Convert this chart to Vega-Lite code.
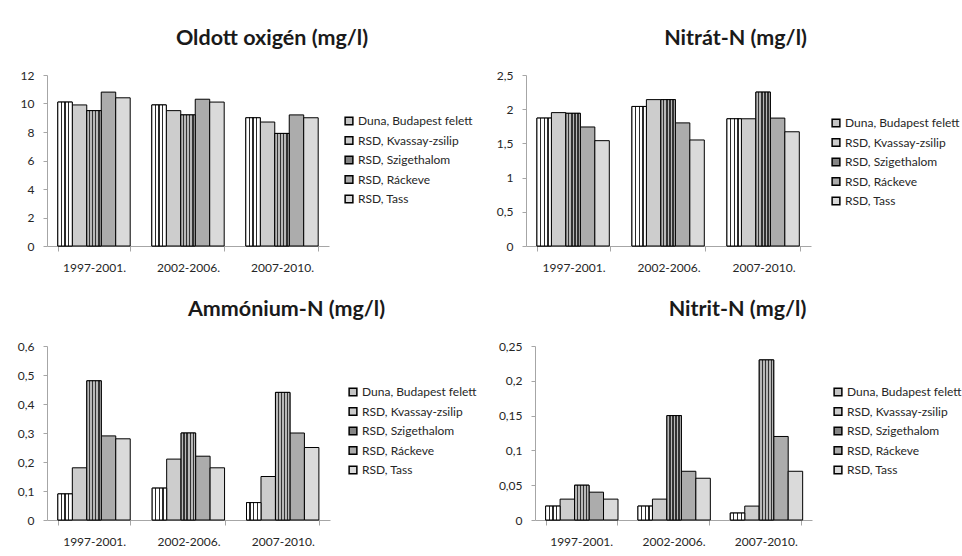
{
  "$schema": "https://vega.github.io/schema/vega-lite/v6.json",
  "padding": {"left": 5, "top": 27, "right": 5, "bottom": 5},
  "background": "white",
  "config": {
    "font": "Lato",
    "view": {"stroke": null},
    "axis": {
      "domainColor": "#a6a6a6",
      "tickColor": "#a6a6a6",
      "labelColor": "#262626",
      "labelFont": "Lato",
      "labelFontSize": 12,
      "grid": false
    },
    "axisX": {"tickSize": 5, "labelPadding": 11, "tickBand": "extent", "labelAngle": 0},
    "axisY": {"tickSize": 4, "labelPadding": 9},
    "legend": {
      "orient": "none",
      "title": null,
      "symbolType": "square",
      "symbolSize": 60,
      "symbolStrokeColor": "black",
      "symbolStrokeWidth": 1.5,
      "labelFont": "Lato",
      "labelFontSize": 12,
      "labelColor": "#262626",
      "labelLimit": 0,
      "rowPadding": 5.5,
      "labelOffset": 3
    },
    "title": {
      "font": "Lato",
      "fontSize": 21.5,
      "fontWeight": "bold",
      "color": "#1a1a1a",
      "anchor": "middle",
      "frame": "group",
      "baseline": "alphabetic",
      "offset": 20
    }
  },
  "datasets": {
    "d": [
      {"param": "O", "period": "1997-2001.", "site": "Duna, Budapest felett", "value": 10.1},
      {"param": "O", "period": "1997-2001.", "site": "RSD, Kvassay-zsilip", "value": 9.9},
      {"param": "O", "period": "1997-2001.", "site": "RSD, Szigethalom", "value": 9.5},
      {"param": "O", "period": "1997-2001.", "site": "RSD, Ráckeve", "value": 10.8},
      {"param": "O", "period": "1997-2001.", "site": "RSD, Tass", "value": 10.4},
      {"param": "O", "period": "2002-2006.", "site": "Duna, Budapest felett", "value": 9.9},
      {"param": "O", "period": "2002-2006.", "site": "RSD, Kvassay-zsilip", "value": 9.5},
      {"param": "O", "period": "2002-2006.", "site": "RSD, Szigethalom", "value": 9.2},
      {"param": "O", "period": "2002-2006.", "site": "RSD, Ráckeve", "value": 10.3},
      {"param": "O", "period": "2002-2006.", "site": "RSD, Tass", "value": 10.1},
      {"param": "O", "period": "2007-2010.", "site": "Duna, Budapest felett", "value": 9.0},
      {"param": "O", "period": "2007-2010.", "site": "RSD, Kvassay-zsilip", "value": 8.7},
      {"param": "O", "period": "2007-2010.", "site": "RSD, Szigethalom", "value": 7.9},
      {"param": "O", "period": "2007-2010.", "site": "RSD, Ráckeve", "value": 9.2},
      {"param": "O", "period": "2007-2010.", "site": "RSD, Tass", "value": 9.0},
      {"param": "NO3", "period": "1997-2001.", "site": "Duna, Budapest felett", "value": 1.87},
      {"param": "NO3", "period": "1997-2001.", "site": "RSD, Kvassay-zsilip", "value": 1.95},
      {"param": "NO3", "period": "1997-2001.", "site": "RSD, Szigethalom", "value": 1.94},
      {"param": "NO3", "period": "1997-2001.", "site": "RSD, Ráckeve", "value": 1.74},
      {"param": "NO3", "period": "1997-2001.", "site": "RSD, Tass", "value": 1.54},
      {"param": "NO3", "period": "2002-2006.", "site": "Duna, Budapest felett", "value": 2.04},
      {"param": "NO3", "period": "2002-2006.", "site": "RSD, Kvassay-zsilip", "value": 2.14},
      {"param": "NO3", "period": "2002-2006.", "site": "RSD, Szigethalom", "value": 2.14},
      {"param": "NO3", "period": "2002-2006.", "site": "RSD, Ráckeve", "value": 1.80},
      {"param": "NO3", "period": "2002-2006.", "site": "RSD, Tass", "value": 1.55},
      {"param": "NO3", "period": "2007-2010.", "site": "Duna, Budapest felett", "value": 1.86},
      {"param": "NO3", "period": "2007-2010.", "site": "RSD, Kvassay-zsilip", "value": 1.86},
      {"param": "NO3", "period": "2007-2010.", "site": "RSD, Szigethalom", "value": 2.25},
      {"param": "NO3", "period": "2007-2010.", "site": "RSD, Ráckeve", "value": 1.87},
      {"param": "NO3", "period": "2007-2010.", "site": "RSD, Tass", "value": 1.67},
      {"param": "NH4", "period": "1997-2001.", "site": "Duna, Budapest felett", "value": 0.09},
      {"param": "NH4", "period": "1997-2001.", "site": "RSD, Kvassay-zsilip", "value": 0.18},
      {"param": "NH4", "period": "1997-2001.", "site": "RSD, Szigethalom", "value": 0.48},
      {"param": "NH4", "period": "1997-2001.", "site": "RSD, Ráckeve", "value": 0.29},
      {"param": "NH4", "period": "1997-2001.", "site": "RSD, Tass", "value": 0.28},
      {"param": "NH4", "period": "2002-2006.", "site": "Duna, Budapest felett", "value": 0.11},
      {"param": "NH4", "period": "2002-2006.", "site": "RSD, Kvassay-zsilip", "value": 0.21},
      {"param": "NH4", "period": "2002-2006.", "site": "RSD, Szigethalom", "value": 0.30},
      {"param": "NH4", "period": "2002-2006.", "site": "RSD, Ráckeve", "value": 0.22},
      {"param": "NH4", "period": "2002-2006.", "site": "RSD, Tass", "value": 0.18},
      {"param": "NH4", "period": "2007-2010.", "site": "Duna, Budapest felett", "value": 0.06},
      {"param": "NH4", "period": "2007-2010.", "site": "RSD, Kvassay-zsilip", "value": 0.15},
      {"param": "NH4", "period": "2007-2010.", "site": "RSD, Szigethalom", "value": 0.44},
      {"param": "NH4", "period": "2007-2010.", "site": "RSD, Ráckeve", "value": 0.30},
      {"param": "NH4", "period": "2007-2010.", "site": "RSD, Tass", "value": 0.25},
      {"param": "NO2", "period": "1997-2001.", "site": "Duna, Budapest felett", "value": 0.02},
      {"param": "NO2", "period": "1997-2001.", "site": "RSD, Kvassay-zsilip", "value": 0.03},
      {"param": "NO2", "period": "1997-2001.", "site": "RSD, Szigethalom", "value": 0.05},
      {"param": "NO2", "period": "1997-2001.", "site": "RSD, Ráckeve", "value": 0.04},
      {"param": "NO2", "period": "1997-2001.", "site": "RSD, Tass", "value": 0.03},
      {"param": "NO2", "period": "2002-2006.", "site": "Duna, Budapest felett", "value": 0.02},
      {"param": "NO2", "period": "2002-2006.", "site": "RSD, Kvassay-zsilip", "value": 0.03},
      {"param": "NO2", "period": "2002-2006.", "site": "RSD, Szigethalom", "value": 0.15},
      {"param": "NO2", "period": "2002-2006.", "site": "RSD, Ráckeve", "value": 0.07},
      {"param": "NO2", "period": "2002-2006.", "site": "RSD, Tass", "value": 0.06},
      {"param": "NO2", "period": "2007-2010.", "site": "Duna, Budapest felett", "value": 0.01},
      {"param": "NO2", "period": "2007-2010.", "site": "RSD, Kvassay-zsilip", "value": 0.02},
      {"param": "NO2", "period": "2007-2010.", "site": "RSD, Szigethalom", "value": 0.23},
      {"param": "NO2", "period": "2007-2010.", "site": "RSD, Ráckeve", "value": 0.12},
      {"param": "NO2", "period": "2007-2010.", "site": "RSD, Tass", "value": 0.07}
    ]
  },
  "spacing": 25,
  "vconcat": [
    {
      "spacing": 23,
      "hconcat": [
        {
          "title": {"text": "Oldott oxigén (mg/l)", "dx": 84},
          "width": 282, "height": 171,
          "data": {"name": "d"},
          "transform": [{"filter": "datum.param == 'O'"}],
          "encoding": {
            "x": {"field": "period", "type": "nominal", "title": null, "scale": {"paddingInner": 0.23, "paddingOuter": 0.115}},
            "xOffset": {"field": "site", "type": "nominal", "sort": ["Duna, Budapest felett", "RSD, Kvassay-zsilip", "RSD, Szigethalom", "RSD, Ráckeve", "RSD, Tass"], "scale": {"paddingInner": 0, "paddingOuter": 0}},
            "y": {"field": "value", "type": "quantitative", "title": null, "scale": {"domain": [0, 12]}, "axis": {"values": [0, 2, 4, 6, 8, 10, 12], "format": ".2~f", "labelExpr": "replace(datum.label, '.', ',')", "minExtent": 38, "maxExtent": 38}}
          },
          "layer": [
            {
              "mark": {"type": "bar", "stroke": "black", "strokeWidth": 1},
              "encoding": {
                "color": {"field": "site", "type": "nominal", "sort": ["Duna, Budapest felett", "RSD, Kvassay-zsilip", "RSD, Szigethalom", "RSD, Ráckeve", "RSD, Tass"], "scale": {"range": ["#c4c4c4", "#cdcdcd", "#858585", "#acacac", "#dadada"]}, "legend": {"legendX": 296, "legendY": 40}}
              }
            },
            {
              "transform": [{"filter": "datum.site == 'Duna, Budapest felett'"}],
              "mark": {"type": "bar", "stroke": "black", "strokeWidth": 1, "fill": {"gradient": "linear", "x1": 0, "y1": 0, "x2": 1, "y2": 0, "stops": [
                {"offset": 0, "color": "#ffffff"}, {"offset": 0.2, "color": "#ffffff"},
                {"offset": 0.2, "color": "#2a2a2a"}, {"offset": 0.29, "color": "#2a2a2a"},
                {"offset": 0.29, "color": "#ffffff"}, {"offset": 0.455, "color": "#ffffff"},
                {"offset": 0.455, "color": "#2a2a2a"}, {"offset": 0.545, "color": "#2a2a2a"},
                {"offset": 0.545, "color": "#ffffff"}, {"offset": 0.71, "color": "#ffffff"},
                {"offset": 0.71, "color": "#2a2a2a"}, {"offset": 0.8, "color": "#2a2a2a"},
                {"offset": 0.8, "color": "#ffffff"}, {"offset": 1, "color": "#ffffff"}]}}
            },
            {
              "transform": [{"filter": "datum.site == 'RSD, Szigethalom'"}],
              "mark": {"type": "bar", "stroke": "black", "strokeWidth": 1, "fill": {"gradient": "linear", "x1": 0, "y1": 0, "x2": 1, "y2": 0, "stops": [
                {"offset": 0, "color": "#b8b8b8"}, {"offset": 0.16, "color": "#b8b8b8"},
                {"offset": 0.16, "color": "#333333"}, {"offset": 0.25, "color": "#333333"},
                {"offset": 0.25, "color": "#b8b8b8"}, {"offset": 0.37, "color": "#b8b8b8"},
                {"offset": 0.37, "color": "#333333"}, {"offset": 0.46, "color": "#333333"},
                {"offset": 0.46, "color": "#b8b8b8"}, {"offset": 0.58, "color": "#b8b8b8"},
                {"offset": 0.58, "color": "#333333"}, {"offset": 0.67, "color": "#333333"},
                {"offset": 0.67, "color": "#b8b8b8"}, {"offset": 0.79, "color": "#b8b8b8"},
                {"offset": 0.79, "color": "#333333"}, {"offset": 0.88, "color": "#333333"},
                {"offset": 0.88, "color": "#b8b8b8"}, {"offset": 1, "color": "#b8b8b8"}]}}
            }
          ]
        },
        {
          "title": {"text": "Nitrát-N (mg/l)", "dx": 67},
          "width": 285, "height": 171,
          "data": {"name": "d"},
          "transform": [{"filter": "datum.param == 'NO3'"}],
          "encoding": {
            "x": {"field": "period", "type": "nominal", "title": null, "scale": {"paddingInner": 0.23, "paddingOuter": 0.115}},
            "xOffset": {"field": "site", "type": "nominal", "sort": ["Duna, Budapest felett", "RSD, Kvassay-zsilip", "RSD, Szigethalom", "RSD, Ráckeve", "RSD, Tass"], "scale": {"paddingInner": 0, "paddingOuter": 0}},
            "y": {"field": "value", "type": "quantitative", "title": null, "scale": {"domain": [0, 2.5]}, "axis": {"values": [0, 0.5, 1, 1.5, 2, 2.5], "format": ".2~f", "labelExpr": "replace(datum.label, '.', ',')", "minExtent": 30, "maxExtent": 30}}
          },
          "layer": [
            {
              "mark": {"type": "bar", "stroke": "black", "strokeWidth": 1},
              "encoding": {
                "color": {"field": "site", "type": "nominal", "sort": ["Duna, Budapest felett", "RSD, Kvassay-zsilip", "RSD, Szigethalom", "RSD, Ráckeve", "RSD, Tass"], "scale": {"range": ["#c4c4c4", "#cdcdcd", "#858585", "#acacac", "#dadada"]}, "legend": {"legendX": 304, "legendY": 42}}
              }
            },
            {
              "transform": [{"filter": "datum.site == 'Duna, Budapest felett'"}],
              "mark": {"type": "bar", "stroke": "black", "strokeWidth": 1, "fill": {"gradient": "linear", "x1": 0, "y1": 0, "x2": 1, "y2": 0, "stops": [
                {"offset": 0, "color": "#ffffff"}, {"offset": 0.2, "color": "#ffffff"},
                {"offset": 0.2, "color": "#2a2a2a"}, {"offset": 0.29, "color": "#2a2a2a"},
                {"offset": 0.29, "color": "#ffffff"}, {"offset": 0.455, "color": "#ffffff"},
                {"offset": 0.455, "color": "#2a2a2a"}, {"offset": 0.545, "color": "#2a2a2a"},
                {"offset": 0.545, "color": "#ffffff"}, {"offset": 0.71, "color": "#ffffff"},
                {"offset": 0.71, "color": "#2a2a2a"}, {"offset": 0.8, "color": "#2a2a2a"},
                {"offset": 0.8, "color": "#ffffff"}, {"offset": 1, "color": "#ffffff"}]}}
            },
            {
              "transform": [{"filter": "datum.site == 'RSD, Szigethalom'"}],
              "mark": {"type": "bar", "stroke": "black", "strokeWidth": 1, "fill": {"gradient": "linear", "x1": 0, "y1": 0, "x2": 1, "y2": 0, "stops": [
                {"offset": 0, "color": "#b8b8b8"}, {"offset": 0.16, "color": "#b8b8b8"},
                {"offset": 0.16, "color": "#333333"}, {"offset": 0.25, "color": "#333333"},
                {"offset": 0.25, "color": "#b8b8b8"}, {"offset": 0.37, "color": "#b8b8b8"},
                {"offset": 0.37, "color": "#333333"}, {"offset": 0.46, "color": "#333333"},
                {"offset": 0.46, "color": "#b8b8b8"}, {"offset": 0.58, "color": "#b8b8b8"},
                {"offset": 0.58, "color": "#333333"}, {"offset": 0.67, "color": "#333333"},
                {"offset": 0.67, "color": "#b8b8b8"}, {"offset": 0.79, "color": "#b8b8b8"},
                {"offset": 0.79, "color": "#333333"}, {"offset": 0.88, "color": "#333333"},
                {"offset": 0.88, "color": "#b8b8b8"}, {"offset": 1, "color": "#b8b8b8"}]}}
            }
          ]
        }
      ],
      "resolve": {"scale": {"color": "independent"}, "legend": {"color": "independent"}}
    },
    {
      "spacing": 20,
      "hconcat": [
        {
          "title": {"text": "Ammónium-N (mg/l)", "dx": 98},
          "width": 283, "height": 174,
          "data": {"name": "d"},
          "transform": [{"filter": "datum.param == 'NH4'"}],
          "encoding": {
            "x": {"field": "period", "type": "nominal", "title": null, "scale": {"paddingInner": 0.23, "paddingOuter": 0.115}},
            "xOffset": {"field": "site", "type": "nominal", "sort": ["Duna, Budapest felett", "RSD, Kvassay-zsilip", "RSD, Szigethalom", "RSD, Ráckeve", "RSD, Tass"], "scale": {"paddingInner": 0, "paddingOuter": 0}},
            "y": {"field": "value", "type": "quantitative", "title": null, "scale": {"domain": [0, 0.6]}, "axis": {"values": [0, 0.1, 0.2, 0.3, 0.4, 0.5, 0.6], "format": ".2~f", "labelExpr": "replace(datum.label, '.', ',')", "minExtent": 42, "maxExtent": 42}}
          },
          "layer": [
            {
              "mark": {"type": "bar", "stroke": "black", "strokeWidth": 1},
              "encoding": {
                "color": {"field": "site", "type": "nominal", "sort": ["Duna, Budapest felett", "RSD, Kvassay-zsilip", "RSD, Szigethalom", "RSD, Ráckeve", "RSD, Tass"], "scale": {"range": ["#c4c4c4", "#cdcdcd", "#858585", "#acacac", "#dadada"]}, "legend": {"legendX": 300, "legendY": 40}}
              }
            },
            {
              "transform": [{"filter": "datum.site == 'Duna, Budapest felett'"}],
              "mark": {"type": "bar", "stroke": "black", "strokeWidth": 1, "fill": {"gradient": "linear", "x1": 0, "y1": 0, "x2": 1, "y2": 0, "stops": [
                {"offset": 0, "color": "#ffffff"}, {"offset": 0.2, "color": "#ffffff"},
                {"offset": 0.2, "color": "#2a2a2a"}, {"offset": 0.29, "color": "#2a2a2a"},
                {"offset": 0.29, "color": "#ffffff"}, {"offset": 0.455, "color": "#ffffff"},
                {"offset": 0.455, "color": "#2a2a2a"}, {"offset": 0.545, "color": "#2a2a2a"},
                {"offset": 0.545, "color": "#ffffff"}, {"offset": 0.71, "color": "#ffffff"},
                {"offset": 0.71, "color": "#2a2a2a"}, {"offset": 0.8, "color": "#2a2a2a"},
                {"offset": 0.8, "color": "#ffffff"}, {"offset": 1, "color": "#ffffff"}]}}
            },
            {
              "transform": [{"filter": "datum.site == 'RSD, Szigethalom'"}],
              "mark": {"type": "bar", "stroke": "black", "strokeWidth": 1, "fill": {"gradient": "linear", "x1": 0, "y1": 0, "x2": 1, "y2": 0, "stops": [
                {"offset": 0, "color": "#b8b8b8"}, {"offset": 0.16, "color": "#b8b8b8"},
                {"offset": 0.16, "color": "#333333"}, {"offset": 0.25, "color": "#333333"},
                {"offset": 0.25, "color": "#b8b8b8"}, {"offset": 0.37, "color": "#b8b8b8"},
                {"offset": 0.37, "color": "#333333"}, {"offset": 0.46, "color": "#333333"},
                {"offset": 0.46, "color": "#b8b8b8"}, {"offset": 0.58, "color": "#b8b8b8"},
                {"offset": 0.58, "color": "#333333"}, {"offset": 0.67, "color": "#333333"},
                {"offset": 0.67, "color": "#b8b8b8"}, {"offset": 0.79, "color": "#b8b8b8"},
                {"offset": 0.79, "color": "#333333"}, {"offset": 0.88, "color": "#333333"},
                {"offset": 0.88, "color": "#b8b8b8"}, {"offset": 1, "color": "#b8b8b8"}]}}
            }
          ]
        },
        {
          "title": {"text": "Nitrit-N (mg/l)", "dx": 64},
          "width": 277, "height": 174,
          "data": {"name": "d"},
          "transform": [{"filter": "datum.param == 'NO2'"}],
          "encoding": {
            "x": {"field": "period", "type": "nominal", "title": null, "scale": {"paddingInner": 0.23, "paddingOuter": 0.115}},
            "xOffset": {"field": "site", "type": "nominal", "sort": ["Duna, Budapest felett", "RSD, Kvassay-zsilip", "RSD, Szigethalom", "RSD, Ráckeve", "RSD, Tass"], "scale": {"paddingInner": 0, "paddingOuter": 0}},
            "y": {"field": "value", "type": "quantitative", "title": null, "scale": {"domain": [0, 0.25]}, "axis": {"values": [0, 0.05, 0.1, 0.15, 0.2, 0.25], "format": ".2~f", "labelExpr": "replace(datum.label, '.', ',')", "minExtent": 38, "maxExtent": 38}}
          },
          "layer": [
            {
              "mark": {"type": "bar", "stroke": "black", "strokeWidth": 1},
              "encoding": {
                "color": {"field": "site", "type": "nominal", "sort": ["Duna, Budapest felett", "RSD, Kvassay-zsilip", "RSD, Szigethalom", "RSD, Ráckeve", "RSD, Tass"], "scale": {"range": ["#c4c4c4", "#cdcdcd", "#858585", "#acacac", "#dadada"]}, "legend": {"legendX": 297, "legendY": 40}}
              }
            },
            {
              "transform": [{"filter": "datum.site == 'Duna, Budapest felett'"}],
              "mark": {"type": "bar", "stroke": "black", "strokeWidth": 1, "fill": {"gradient": "linear", "x1": 0, "y1": 0, "x2": 1, "y2": 0, "stops": [
                {"offset": 0, "color": "#ffffff"}, {"offset": 0.2, "color": "#ffffff"},
                {"offset": 0.2, "color": "#2a2a2a"}, {"offset": 0.29, "color": "#2a2a2a"},
                {"offset": 0.29, "color": "#ffffff"}, {"offset": 0.455, "color": "#ffffff"},
                {"offset": 0.455, "color": "#2a2a2a"}, {"offset": 0.545, "color": "#2a2a2a"},
                {"offset": 0.545, "color": "#ffffff"}, {"offset": 0.71, "color": "#ffffff"},
                {"offset": 0.71, "color": "#2a2a2a"}, {"offset": 0.8, "color": "#2a2a2a"},
                {"offset": 0.8, "color": "#ffffff"}, {"offset": 1, "color": "#ffffff"}]}}
            },
            {
              "transform": [{"filter": "datum.site == 'RSD, Szigethalom'"}],
              "mark": {"type": "bar", "stroke": "black", "strokeWidth": 1, "fill": {"gradient": "linear", "x1": 0, "y1": 0, "x2": 1, "y2": 0, "stops": [
                {"offset": 0, "color": "#b8b8b8"}, {"offset": 0.16, "color": "#b8b8b8"},
                {"offset": 0.16, "color": "#333333"}, {"offset": 0.25, "color": "#333333"},
                {"offset": 0.25, "color": "#b8b8b8"}, {"offset": 0.37, "color": "#b8b8b8"},
                {"offset": 0.37, "color": "#333333"}, {"offset": 0.46, "color": "#333333"},
                {"offset": 0.46, "color": "#b8b8b8"}, {"offset": 0.58, "color": "#b8b8b8"},
                {"offset": 0.58, "color": "#333333"}, {"offset": 0.67, "color": "#333333"},
                {"offset": 0.67, "color": "#b8b8b8"}, {"offset": 0.79, "color": "#b8b8b8"},
                {"offset": 0.79, "color": "#333333"}, {"offset": 0.88, "color": "#333333"},
                {"offset": 0.88, "color": "#b8b8b8"}, {"offset": 1, "color": "#b8b8b8"}]}}
            }
          ]
        }
      ],
      "resolve": {"scale": {"color": "independent"}, "legend": {"color": "independent"}}
    }
  ]
}
